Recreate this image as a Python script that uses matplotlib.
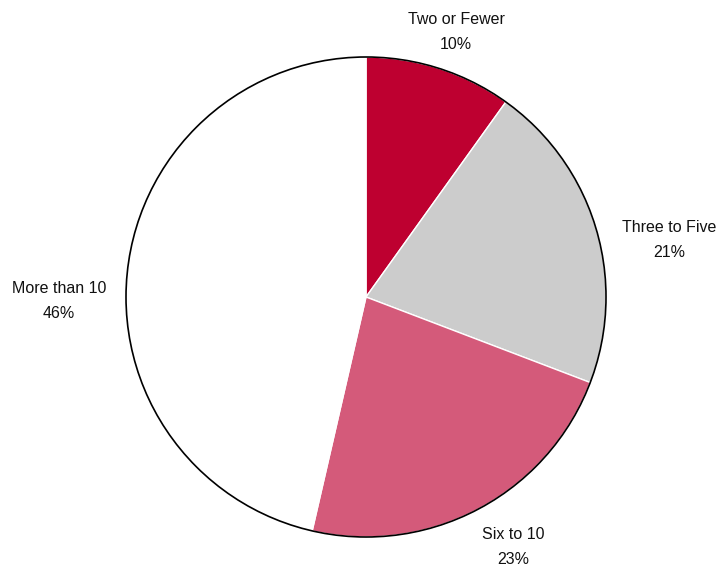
import matplotlib.pyplot as plt
from matplotlib.patches import Circle

categories = ["Two or Fewer", "Three to Five", "Six to 10", "More than 10"]
shares = [9.9, 20.9, 22.8, 46.4]
colors = ["#BE0030", "#CCCCCC", "#D45A7A", "#FFFFFF"]

# label centres in pixel space (y from top)
label_pos = [(456, 32), (669, 240), (513, 547), (59, 301)]

plt.rcParams["font.family"] = ["Liberation Sans", "DejaVu Sans"]

W, H = 717, 569
fig = plt.figure(figsize=(W / 100, H / 100), dpi=100)
ax = fig.add_axes([0, 0, 1, 1])

cx, cy, r = 366, H - 297, 240
ax.pie(
    shares,
    colors=colors,
    startangle=90,
    counterclock=False,
    center=(cx, cy),
    radius=r,
    wedgeprops={"edgecolor": "white", "linewidth": 1},
    frame=True,
)
ax.add_patch(Circle((cx, cy), r, fill=False, edgecolor="black", linewidth=1.2))
ax.set_xlim(0, W)
ax.set_ylim(0, H)
ax.set_aspect("equal")
ax.axis("off")

for name, val, (x, y) in zip(categories, shares, label_pos):
    ax.text(x, H - y, f"{name}\n{round(val)}%", ha="center", va="center",
            fontsize=11.5, color="#111111", linespacing=1.9)

fig.savefig("out.png", dpi=100)
